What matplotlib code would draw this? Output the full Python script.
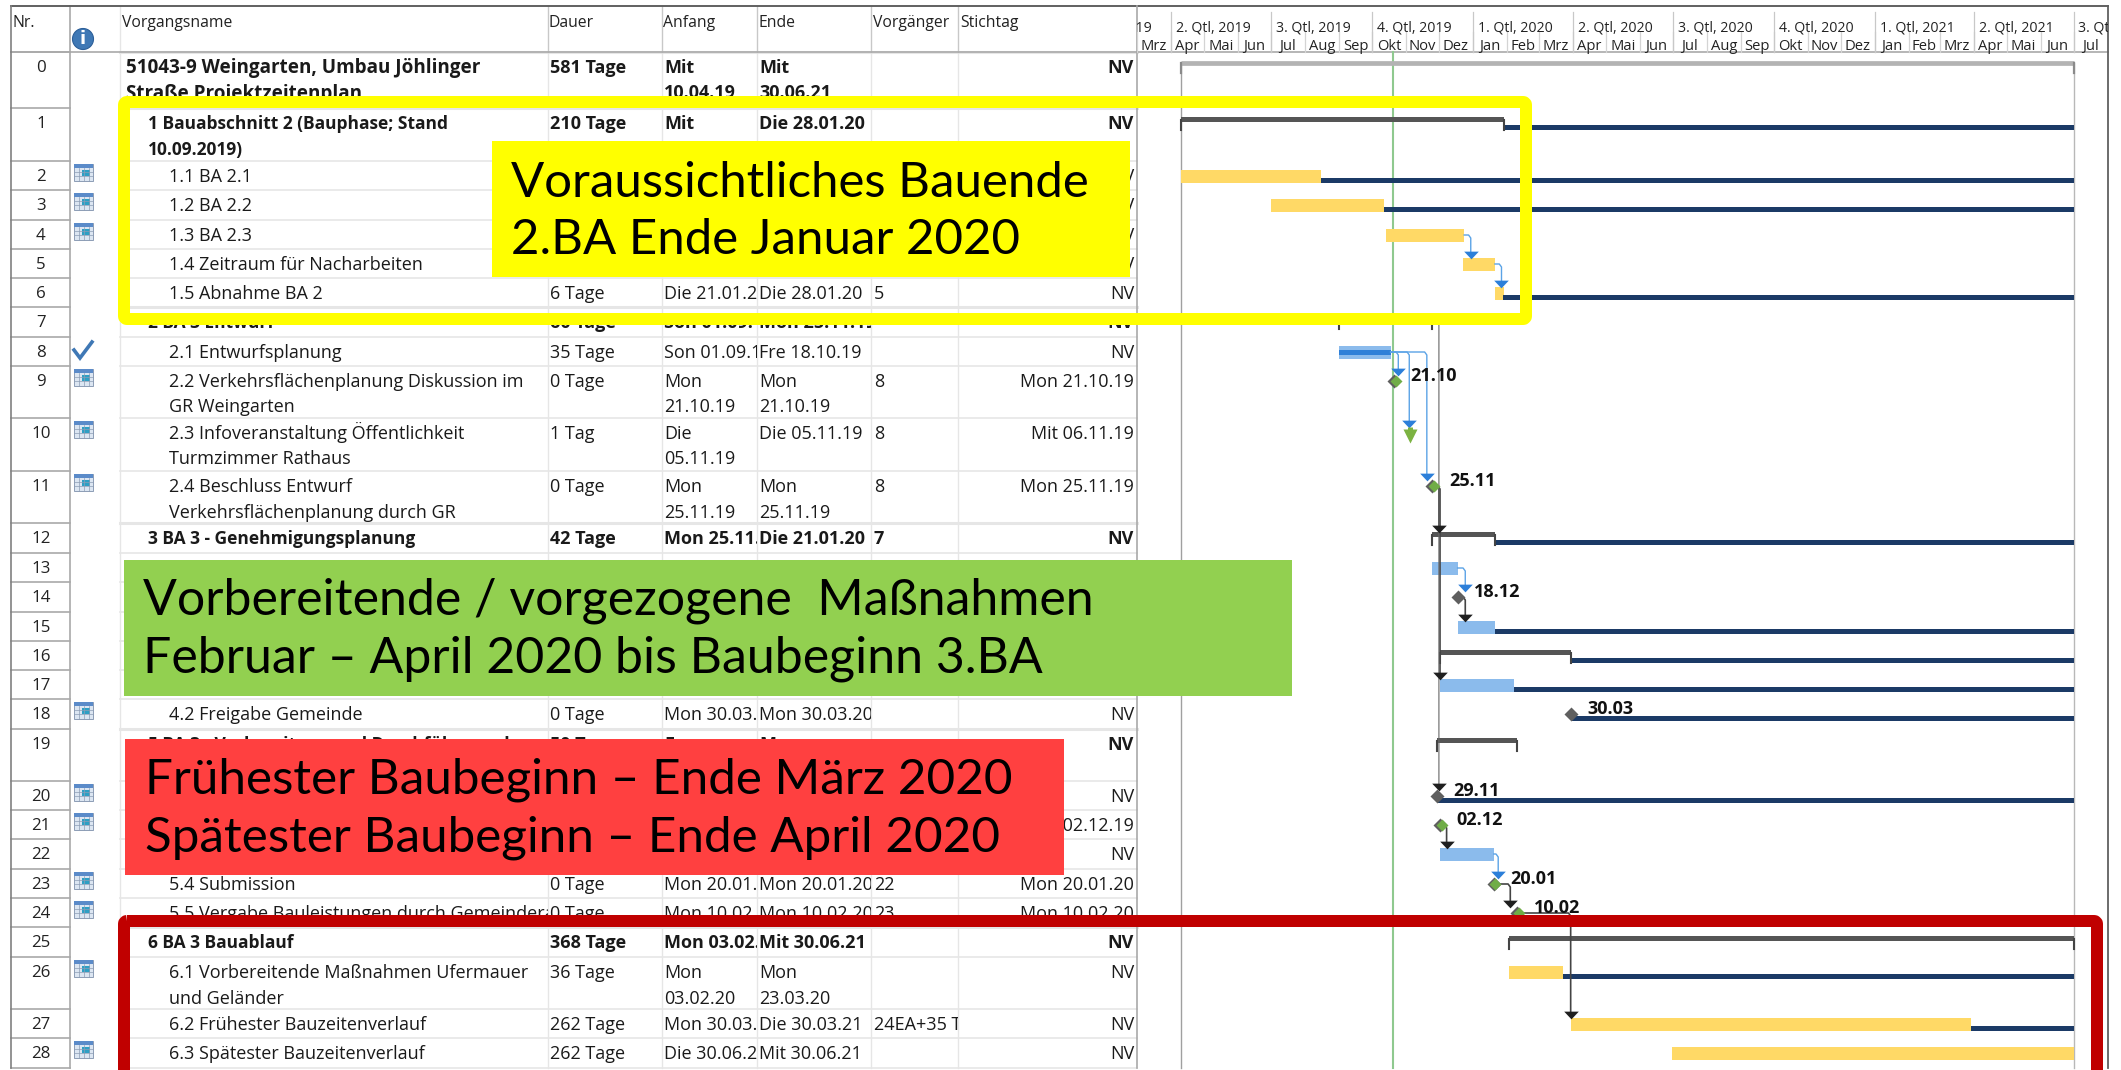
#!/usr/bin/env python3
"""Bauzeitenplan Weingarten: Gantt table with coloured note boxes on top."""
import matplotlib
matplotlib.use('Agg')
import matplotlib.dates as mdates
import matplotlib.pyplot as plt
from matplotlib.patches import FancyBboxPatch, Rectangle, Circle

W, H = 2121, 1070
TABLE_FONT = 'Open Sans'
NOTE_FONT = 'Lato'

# --- table content, one entry per row -------------------------------------
row_tops = [52, 108, 161, 190, 220, 249, 278, 307, 337, 366, 418, 471, 523, 553, 582,
            612, 641, 670, 699, 729, 781, 810, 839, 869, 898, 927, 957, 1009, 1038, 1068]
names = ['51043-9 Weingarten, Umbau Jöhlinger\nStraße Projektzeitenplan',
         '1 Bauabschnitt 2 (Bauphase; Stand\n10.09.2019)',
         '1.1 BA 2.1', '1.2 BA 2.2', '1.3 BA 2.3', '1.4 Zeitraum für Nacharbeiten',
         '1.5 Abnahme BA 2', '2 BA 3 Entwurf', '2.1 Entwurfsplanung',
         '2.2 Verkehrsflächenplanung Diskussion im\nGR Weingarten',
         '2.3 Infoveranstaltung Öffentlichkeit\nTurmzimmer Rathaus',
         '2.4 Beschluss Entwurf\nVerkehrsflächenplanung durch GR',
         '3 BA 3 - Genehmigungsplanung', '', '', '', '', '',
         '4.2 Freigabe Gemeinde', '5 BA 3 - Vorbereitung und Durchführung der', '', '', '',
         '5.4 Submission', '5.5 Vergabe Bauleistungen durch Gemeinderat',
         '6 BA 3 Bauablauf', '6.1 Vorbereitende Maßnahmen Ufermauer\nund Geländer',
         '6.2 Frühester Bauzeitenverlauf', '6.3 Spätester Bauzeitenverlauf']
dauer = ['581 Tage', '210 Tage', '', '', '', '', '6 Tage', '60 Tage', '35 Tage', '0 Tage', '1 Tag',
         '0 Tage', '42 Tage', '', '', '', '', '', '0 Tage', '50 Tage', '', '', '', '0 Tage',
         '0 Tage', '368 Tage', '36 Tage', '262 Tage', '262 Tage']
anfang = ['Mit\n10.04.19', 'Mit\n10.04.19', '', '', '', '', 'Die 21.01.20', 'Son 01.09.19',
          'Son 01.09.19', 'Mon\n21.10.19', 'Die\n05.11.19', 'Mon\n25.11.19', 'Mon 25.11.19',
          '', '', '', '', '', 'Mon 30.03.20', 'Fre', '', '', '', 'Mon 20.01.20', 'Mon 10.02.20',
          'Mon 03.02.20', 'Mon\n03.02.20', 'Mon 30.03.20', 'Die 30.06.20']
ende = ['Mit\n30.06.21', 'Die 28.01.20', '', '', '', '', 'Die 28.01.20', 'Mon 25.11.19',
        'Fre 18.10.19', 'Mon\n21.10.19', 'Die 05.11.19', 'Mon\n25.11.19', 'Die 21.01.20',
        '', '', '', '', '', 'Mon 30.03.20', 'Mon', '', '', '', 'Mon 20.01.20', 'Mon 10.02.20',
        'Mit 30.06.21', 'Mon\n23.03.20', 'Die 30.03.21', 'Mit 30.06.21']
vorgaenger = ['', '', '', '', '', '', '5', '', '', '8', '8', '8', '7', '', '', '', '', '', '', '',
              '', '', '', '22', '23', '', '', '24EA+35 Tage', '']
stichtag = ['NV', 'NV', 'NV', 'NV', 'NV', 'NV', 'NV', 'NV', 'NV', 'Mon 21.10.19', 'Mit 06.11.19',
            'Mon 25.11.19', 'NV', '', '', '', '', '', 'NV', 'NV', 'NV', 'Mon 02.12.19', 'NV',
            'Mon 20.01.20', 'Mon 10.02.20', 'NV', 'NV', 'NV', 'NV']
bold_rows = [0, 1, 7, 12, 19, 25]
name_indent = [126, 148, 169, 169, 169, 169, 169, 148, 169, 169, 169, 169, 148, 169, 169, 148, 148,
               169, 169, 148, 169, 169, 169, 169, 169, 148, 169, 169, 169]
calendar_rows = [2, 3, 4, 9, 10, 11, 18, 20, 21, 23, 24, 26, 28]
check_rows = [8]

# --- timescale --------------------------------------------------------------
month_labels = ['Mrz', 'Apr', 'Mai', 'Jun', 'Jul', 'Aug', 'Sep', 'Okt', 'Nov', 'Dez', 'Jan', 'Feb',
                'Mrz', 'Apr', 'Mai', 'Jun', 'Jul', 'Aug', 'Sep', 'Okt', 'Nov', 'Dez', 'Jan', 'Feb',
                'Mrz', 'Apr', 'Mai', 'Jun', 'Jul']
month_starts = ['2019-03-01', '2019-04-01', '2019-05-01', '2019-06-01', '2019-07-01', '2019-08-01',
                '2019-09-01', '2019-10-01', '2019-11-01', '2019-12-01', '2020-01-01', '2020-02-01',
                '2020-03-01', '2020-04-01', '2020-05-01', '2020-06-01', '2020-07-01', '2020-08-01',
                '2020-09-01', '2020-10-01', '2020-11-01', '2020-12-01', '2021-01-01', '2021-02-01',
                '2021-03-01', '2021-04-01', '2021-05-01', '2021-06-01', '2021-07-01', '2021-08-01']
quarter_labels = ['1. Qtl, 2019', '2. Qtl, 2019', '3. Qtl, 2019', '4. Qtl, 2019', '1. Qtl, 2020',
                  '2. Qtl, 2020', '3. Qtl, 2020', '4. Qtl, 2020', '1. Qtl, 2021', '2. Qtl, 2021',
                  '3. Qtl, 2021']
quarter_starts = ['2019-01-01', '2019-04-01', '2019-07-01', '2019-10-01', '2020-01-01', '2020-04-01',
                  '2020-07-01', '2020-10-01', '2021-01-01', '2021-04-01', '2021-07-01']
project_start = '2019-04-10'
project_end = '2021-07-01'
status_date = '2019-10-20'

# --- Gantt marks ------------------------------------------------------------
yellow_rows = [2, 3, 4, 5, 6, 26, 27, 28]
yellow_starts = ['2019-04-10', '2019-07-01', '2019-10-14', '2019-12-23', '2020-01-21', '2020-02-03',
                 '2020-03-30', '2020-06-30']
yellow_ends = ['2019-08-16', '2019-10-12', '2019-12-24', '2020-01-21', '2020-01-29', '2020-03-23',
               '2021-03-30', '2021-07-01']
blue_rows = [8, 13, 15, 17, 22]
blue_starts = ['2019-09-01', '2019-11-25', '2019-12-18', '2019-12-02', '2019-12-02']
blue_ends = ['2019-10-18', '2019-12-18', '2020-01-21', '2020-02-07', '2020-01-20']
summary_rows = [1, 7, 12, 16, 19, 25]
summary_starts = ['2019-04-10', '2019-09-01', '2019-11-25', '2019-12-02', '2019-11-29', '2020-02-03']
summary_ends = ['2020-01-29', '2019-11-25', '2020-01-21', '2020-03-30', '2020-02-10', '2021-07-01']
baseline_rows = [1, 2, 3, 6, 12, 15, 16, 17, 18, 20, 26, 27]
baseline_starts = ['2020-01-28', '2019-08-16', '2019-10-12', '2020-01-28', '2020-01-21', '2020-01-21',
                   '2020-03-30', '2020-02-07', '2020-03-30', '2019-11-29', '2020-03-23', '2021-03-30']
milestone_rows = [9, 11, 14, 18, 20, 21, 23, 24]
milestone_dates = ['2019-10-21', '2019-11-25', '2019-12-18', '2020-03-30', '2019-11-29', '2019-12-02',
                   '2020-01-20', '2020-02-10']
milestone_labels = ['21.10', '25.11', '18.12', '30.03', '29.11', '02.12', '20.01', '10.02']
milestone_done = [True, True, False, False, False, True, True, True]
short_task_row = 10
short_task_date = '2019-11-05'
# links: from row, from date, to row, date of the vertical run
blue_links = [(4, '2019-12-24', 5, '2019-12-30'), (5, '2020-01-21', 6, '2020-01-27'),
              (8, '2019-10-18', 9, '2019-10-25'), (8, '2019-10-18', 10, '2019-11-04'),
              (8, '2019-10-18', 11, '2019-11-20'), (13, '2019-12-18', 14, '2019-12-25'),
              (22, '2020-01-20', 23, '2020-01-24')]
black_links = [(11, '2019-11-25', 12, '2019-12-01'), (11, '2019-11-25', 17, '2019-12-02'),
               (14, '2019-12-18', 15, '2019-12-25'), (21, '2019-12-02', 22, '2019-12-08'),
               (23, '2020-01-20', 24, '2020-02-04'), (24, '2020-02-10', 27, '2020-03-30')]
thin_links = [(7, '2019-11-25', 20, '2019-12-01')]

# --- note boxes -------------------------------------------------------------
yellow_note = ['Voraussichtliches Bauende', '2.BA Ende Januar 2020']
green_note = ['Vorbereitende / vorgezogene  Maßnahmen', 'Februar – April 2020 bis Baubeginn 3.BA']
red_note = ['Frühester Baubeginn – Ende März 2020', 'Spätester Baubeginn – Ende April 2020']

C_YELLOW = '#ffd966'
C_BLUE = '#8bbbec'
C_PROGRESS = '#2f80d8'
C_NAVY = '#1b3a66'
C_SUMMARY = '#555555'
C_GRID = '#e6e6e6'
C_RULE = '#a9a9a9'
C_LINK = '#5ba3e6'
C_HEAD = '#2c7fd9'
C_DONE = '#70ad47'
RIGHT = 2108


def d2n(s):
    return mdates.datestr2num(s)


def bar_y(r):
    return row_tops[r] + 15.5


def tip_y(r):
    return row_tops[r] + 9.5


fig = plt.figure(figsize=(W / 100, H / 100), dpi=100, facecolor='white')


def pixel_axes(z):
    ax = fig.add_axes([0, 0, 1, 1], zorder=z)
    ax.set_xlim(0, W)
    ax.set_ylim(H, 0)
    ax.axis('off')
    ax.patch.set_alpha(0)
    return ax


# === table ===
tab = pixel_axes(1)
col_edges = [11, 70, 120, 548, 662, 757, 871, 958, 1137]
for i, r_top in enumerate(row_tops):
    heavy = i < len(names) and i in bold_rows
    tab.plot([120, 1137], [r_top, r_top], color=C_GRID, lw=2.2 if heavy else 1.2, zorder=1)
    tab.plot([11, 70], [r_top, r_top], color=C_RULE, lw=1.2, zorder=2)
for x in col_edges[3:-1]:
    tab.plot([x, x], [52, 1068], color=C_GRID, lw=1, zorder=1)
    tab.plot([x, x], [6, 52], color='#c8c8c8', lw=1, zorder=1)
tab.plot([120, 120], [6, 1068], color=C_GRID, lw=1, zorder=1)
tab.plot([70, 70], [6, 1068], color=C_RULE, lw=1.2, zorder=2)
tab.plot([11, RIGHT], [6, 6], color='#606060', lw=1.4, zorder=3)
tab.plot([11, RIGHT], [52, 52], color=C_RULE, lw=1.2, zorder=3)
tab.plot([11, 11], [6, 1068], color='#808080', lw=1.2, zorder=3)
tab.plot([RIGHT, RIGHT], [6, 1068], color='#606060', lw=1.3, zorder=3)
tab.plot([1137, 1137], [6, 1068], color=C_RULE, lw=1.2, zorder=3)


def cell(x, y, s, x0, x1, top, bottom, bold=False, ha='left', size=13):
    t = tab.text(x, y, s, fontsize=size, family=TABLE_FONT, ha=ha, va='baseline', clip_on=True,
                 fontweight='bold' if bold else 'normal', color='#1a1a1a', zorder=4)
    # truncated at the cell edge, like the source table
    t.set_clip_path(Rectangle((x0, top), x1 - x0, bottom - top, transform=tab.transData))


header_labels = ['Nr.', 'Vorgangsname', 'Dauer', 'Anfang', 'Ende', 'Vorgänger', 'Stichtag']
header_x = [13, 122, 549, 663, 758, 873, 960]
for x, s in zip(header_x, header_labels):
    tab.text(x, 27, s, fontsize=11.3, family=TABLE_FONT, color='#222222', va='baseline', zorder=4)

LINE = 25.5
BASE = 21
for r in range(len(names)):
    top, bot = row_tops[r], row_tops[r + 1]
    bold = r in bold_rows
    name_size = 13.6 if r == 0 else (12.5 if bold else 13)
    tab.text(41, top + BASE - 1, str(r), fontsize=12.2, family=TABLE_FONT, ha='center',
             va='baseline', color='#222222', zorder=4)
    columns = [(names[r], name_indent[r], 120, 548, name_size), (dauer[r], 550, 548, 662, 13),
               (anfang[r], 664, 662, 757, 13), (ende[r], 759, 757, 871, 13),
               (vorgaenger[r], 874, 871, 958, 13)]
    for s, x, x0, x1, size in columns:
        for k, part in enumerate(s.split('\n')):
            cell(x, top + BASE + k * LINE, part, x0, x1, top, bot, bold, size=size)
    if stichtag[r]:
        cell(1134, top + BASE, stichtag[r], 958, 1137, top, bot, bold, ha='right')

# icons in the indicator column
tab.add_patch(Circle((83, 39), 10.5, fc='#3f78b5', ec='#2c5f99', lw=0.8, zorder=4))
tab.text(83, 39.5, 'i', color='white', fontsize=13, fontweight='bold', family='DejaVu Sans',
         ha='center', va='center', zorder=5)
for r in calendar_rows:
    top = row_tops[r]
    tab.add_patch(Rectangle((74, top + 3), 19, 17, fc='#dce6f2', ec='#8c9db5', lw=0.7, zorder=4))
    tab.add_patch(Rectangle((74, top + 3), 19, 4, fc='#5b8bc9', ec='none', zorder=5))
    tab.add_patch(Rectangle((82, top + 9), 8, 6, fc='#2e9fc4', ec='none', zorder=5))
    for gx in (79, 84, 89):
        tab.plot([gx, gx], [top + 7, top + 20], color='#8c9db5', lw=0.5, zorder=6)
    for gy in (11, 15):
        tab.plot([74, 93], [top + gy, top + gy], color='#8c9db5', lw=0.5, zorder=6)
for r in check_rows:
    top = row_tops[r]
    tab.plot([74, 80, 92], [top + 13, top + 21, top + 5], color='#3f78b5', lw=2.6,
             solid_joinstyle='miter', zorder=4)

# === Gantt, on a real date axis ===
PX_PER_DAY = 1.098
x_origin = d2n('2019-04-01')
gantt = fig.add_axes([1137 / W, 0, (RIGHT - 1137) / W, 1], zorder=2)
gantt.set_xlim(x_origin + (1137 - 1171) / PX_PER_DAY, x_origin + (RIGHT - 1171) / PX_PER_DAY)
gantt.set_ylim(H, 0)
gantt.axis('off')
gantt.patch.set_alpha(0)

for i, s in enumerate(month_labels):
    a, b = d2n(month_starts[i]), d2n(month_starts[i + 1])
    gantt.text((a + b) / 2, 50, s, fontsize=10.6, family=TABLE_FONT, ha='center', va='baseline',
               color='#222222', clip_on=True)
    gantt.plot([a, a], [32, 52], color='#d4d4d4', lw=0.9)
for s, q in zip(quarter_labels, quarter_starts):
    gantt.plot([d2n(q), d2n(q)], [12, 52], color='#c8c8c8', lw=0.9)
    gantt.text(d2n(q) + 4.5, 31, s, fontsize=10.2, family=TABLE_FONT, ha='left', va='baseline',
               color='#222222', clip_on=True)

for day, col in ((project_start, '#a0a0a0'), (project_end, '#b8b8b8')):
    gantt.plot([d2n(day), d2n(day)], [row_tops[0] + 11, 1068], color=col, lw=1, zorder=1)
gantt.plot([d2n(status_date)] * 2, [52, 1068], color='#8fc98f', lw=1.5, zorder=1.5)

# project summary
gantt.plot([d2n(project_start), d2n(project_end)], [row_tops[0] + 11] * 2, color='#b3b3b3', lw=3.4,
           solid_capstyle='butt', zorder=3)
for day in (project_start, project_end):
    gantt.plot([d2n(day)] * 2, [row_tops[0] + 11, row_tops[0] + 21], color='#8a8a8a', lw=1.6, zorder=3)

for r, a, b in zip(yellow_rows, yellow_starts, yellow_ends):
    gantt.barh(bar_y(r), d2n(b) - d2n(a), left=d2n(a), height=13, color=C_YELLOW, zorder=3)
for r, a, b in zip(blue_rows, blue_starts, blue_ends):
    gantt.barh(bar_y(r), d2n(b) - d2n(a), left=d2n(a), height=13, color=C_BLUE, zorder=3)
# progress inside 2.1
gantt.barh(bar_y(8), d2n(blue_ends[0]) - d2n(blue_starts[0]), left=d2n(blue_starts[0]), height=5,
           color=C_PROGRESS, zorder=3.5)
for r, a in zip(baseline_rows, baseline_starts):
    gantt.barh(row_tops[r] + 19.5, d2n(project_end) - d2n(a), left=d2n(a), height=5, color=C_NAVY,
               zorder=3.2)
for r, a, b in zip(summary_rows, summary_starts, summary_ends):
    y = row_tops[r] + 11.5
    gantt.barh(y, d2n(b) - d2n(a), left=d2n(a), height=4.6, color=C_SUMMARY, zorder=4)
    for day in (a, b):
        gantt.plot([d2n(day)] * 2, [y, row_tops[r] + 21.5], color='#444444', lw=1.5, zorder=4)


def draw_link(link, line_color, head_color, lw):
    r0, a, r1, via = link
    y0, tip = row_tops[r0] + 15, tip_y(r1)
    gantt.plot([d2n(a), d2n(via) - 2, d2n(via), d2n(via)], [y0, y0, y0 + 3, tip - 4], color=line_color,
               lw=lw, solid_joinstyle='round', zorder=5)
    gantt.plot([d2n(via)], [tip - 4], marker=[(-1, .53), (1, .53), (0, -.53)], ms=10.5, mfc=head_color,
               mec='none', ls='none', zorder=6)


for link in blue_links:
    draw_link(link, C_LINK, C_HEAD, 1.0)
for link in black_links:
    draw_link(link, '#444444', '#1f1f1f', 1.2)
for link in thin_links:
    draw_link(link, '#666666', '#1f1f1f', 0.8)

# short task 2.3 drawn as a narrow green bar with a point
gantt.plot([d2n(short_task_date)] * 2, [row_tops[short_task_row] + 9, row_tops[short_task_row] + 17],
           color='#7cb342', lw=3.6, solid_capstyle='butt', zorder=6)
gantt.plot([d2n(short_task_date)], [row_tops[short_task_row] + 18], marker='v', ms=9.4, mfc='#7cb342',
           mec='none', zorder=6)

for r, day, lab, done in zip(milestone_rows, milestone_dates, milestone_labels, milestone_done):
    y = row_tops[r] + 15
    gantt.plot([d2n(day)], [y], marker='D', ms=7.2, mfc='#5f5f5f', mec='none', zorder=7)
    if done:
        gantt.plot([d2n(day) + 1.5], [y], marker='D', ms=6.6, mfc=C_DONE, mec='none', zorder=8)
    gantt.annotate(lab, (d2n(day), y), xytext=(12, 3.5), textcoords='offset points', fontsize=13,
                   fontweight='bold', family=TABLE_FONT, va='center', color='#111111', zorder=9)

# === note boxes above everything ===
over = pixel_axes(3)


def frame(x0, y0, x1, y1, color):
    over.add_patch(FancyBboxPatch((x0, y0), x1 - x0, y1 - y0, boxstyle='round,pad=0,rounding_size=3',
                                  fc='none', ec=color, lw=12 * 0.72, joinstyle='round'))


def note(x0, y0, x1, y1, color, lines, text_x, baselines, size):
    over.add_patch(Rectangle((x0, y0), x1 - x0, y1 - y0, fc=color, ec='none', zorder=2))
    for s, b in zip(lines, baselines):
        over.text(text_x, b, s, fontsize=size, family=NOTE_FONT, color='black', va='baseline', zorder=3)


frame(124, 102, 1526, 319, '#ffff00')
frame(124, 921, 2097, 1082, '#c00000')
note(492, 141, 1130, 277, '#ffff00', yellow_note, 511, [197, 254], 35.4)
note(124, 560, 1292, 696, '#92d050', green_note, 143, [615, 673], 36)
note(125, 739, 1064, 875, '#ff4040', red_note, 145, [794, 852], 35.6)

fig.savefig('out.png', dpi=100, facecolor='white')
